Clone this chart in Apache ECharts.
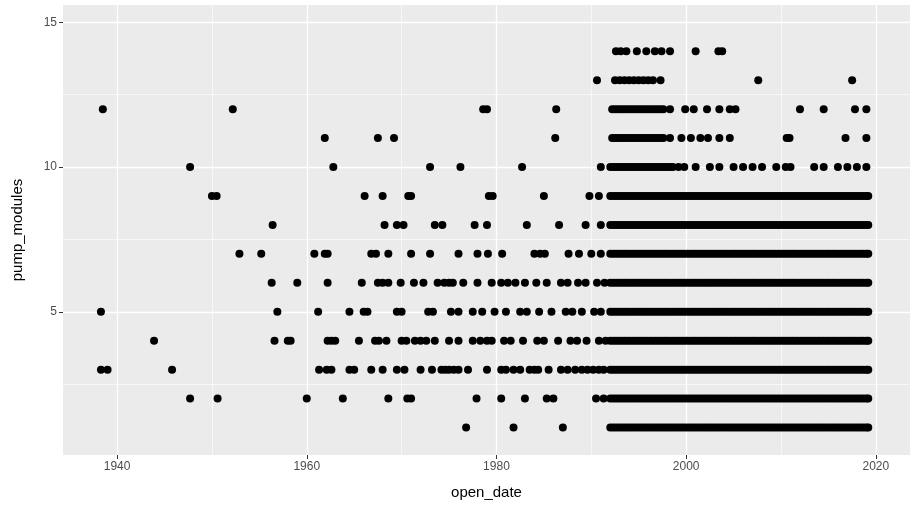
<!DOCTYPE html>
<html>
<head>
<meta charset="utf-8">
<script src="https://cdn.jsdelivr.net/npm/echarts@6/dist/echarts.min.js"></script>
<style>html,body{margin:0;padding:0;background:#fff}#chart{width:918px;height:517px}</style>
</head>
<body>
<div id="chart"></div>
<script>
// years, one list per pump_modules level
var denseYears = [1992.0,1992.3,1992.6,1992.9,1993.2,1993.5,1993.8,1994.1,1994.4,1994.7,1995.0,1995.3,1995.6,1995.9,1996.2,1996.5,1996.8,1997.1,1997.4,1997.7,1998.0,1998.3,1998.6,1998.9,1999.2,1999.5,1999.8,2000.1,2000.4,2000.7,2001.0,2001.3,2001.6,2001.9,2002.2,2002.5,2002.8,2003.1,2003.4,2003.7,2004.0,2004.3,2004.6,2004.9,2005.2,2005.5,2005.8,2006.1,2006.4,2006.7,2007.0,2007.3,2007.6,2007.9,2008.2,2008.5,2008.8,2009.1,2009.4,2009.7,2010.0,2010.3,2010.6,2010.9,2011.2,2011.5,2011.8,2012.1,2012.4,2012.7,2013.0,2013.3,2013.6,2013.9,2014.2,2014.5,2014.8,2015.1,2015.4,2015.7,2016.0,2016.3,2016.6,2016.9,2017.2,2017.5,2017.8,2018.1,2018.4,2018.7,2019.0,2019.2];
var earlyDense = [1992.2,1992.5,1992.8,1993.1,1993.4,1993.7,1994.0,1994.3,1994.6,1994.9,1995.2,1995.5,1995.8,1996.1,1996.4,1996.7,1997.0,1997.3,1997.6,1998.3];

var row1 = [1976.8,1981.8,1987];
var row2 = [1947.7,1950.6,1960,1963.8,1968.6,1970.6,1971,1977.9,1980.5,1983,1985.3,1986,1990.5,1991.3];
var row3 = [1938.3,1939,1945.8,1961.3,1962.1,1962.6,1964.5,1965,1966.8,1968,1969.5,1970.3,1972,1973.2,1974.2,1974.6,1975,1975.5,1976,1977,1979,1980.5,1981,1981.8,1982.5,1983.5,1984,1984.4,1985.5,1986.8,1987.5,1988.3,1989,1989.6,1990.2,1990.8,1991.3];
var row4 = [1943.9,1956.6,1958,1958.3,1962.2,1962.6,1963,1965.5,1967.2,1967.6,1968.4,1970,1970.5,1971.4,1972,1972.6,1973.5,1975,1976,1977.5,1978.3,1979,1979.5,1980.8,1981.5,1982.8,1984.3,1985,1986.5,1987.8,1988.5,1989.5,1990.8,1991.5];
var row5 = [1938.3,1956.9,1961.2,1964.5,1966,1966.4,1969.5,1970,1972.8,1973.3,1975.2,1976,1977.5,1978.5,1979.8,1981,1982.5,1983.2,1984.5,1985.8,1987.3,1988,1989,1990.3,1991];
var row6 = [1956.3,1959,1962.2,1965.8,1967.5,1968,1968.6,1969.9,1971.3,1972.3,1973.8,1974.5,1975,1975.4,1976.5,1978,1979.5,1980.5,1981.2,1982,1983,1984.2,1985.3,1986.8,1987.5,1988.6,1989.4,1990.6,1991.4];
var row7 = [1952.9,1955.2,1960.8,1961.9,1962.2,1966.8,1967.3,1968.6,1971,1973,1976,1978,1979.1,1980.6,1984,1984.6,1985.1,1987.6,1988.7,1990,1991];
var row8 = [1956.4,1968.2,1969.5,1970.2,1973.5,1974.3,1977.7,1979,1983.2,1986.6,1989.4,1991];
var row9 = [1950,1950.5,1966.1,1968,1970.7,1971,1979.2,1979.6,1985,1989.8,1990.8];
var row10 = [1947.7,1962.8,1973,1976.2,1982.7,1991,1992,1992.3,1992.6,1992.9,1993.2,1993.5,1993.8,1994.1,1994.4,1994.7,1995,1995.3,1995.6,1995.9,1996.2,1996.5,1996.8,1997.1,1997.4,1997.7,1998,1998.3,1998.6,1999.2,1999.8,2001,2002.5,2003.5,2005,2006,2007,2008,2009.5,2010.5,2011,2013.5,2014.5,2016,2017,2018,2019];
var row11 = [1961.9,1967.5,1969.2,1986.2,1999.5,2000.5,2001.5,2002.3,2003.5,2004.6,2010.6,2010.9,2016.8,2019];
var row12 = [1938.5,1952.2,1978.6,1979,1986.3,1999.9,2000.8,2002.2,2003.5,2004.6,2005.2,2012,2014.5,2017.8,2019];
var row13 = [1990.6,1992.5,1993,1993.5,1994,1994.5,1995,1995.5,1996,1996.5,1997.3,2007.6,2017.5];
var row14 = [1992.6,1993.1,1993.7,1994.8,1995.8,1996.7,1997.4,1998.3,2001,2003.4,2003.8];

var xMajor = [1940,1960,1980,2000,2020];
var xMinor = [1950,1970,1990,2010];
var yMajor = [5,10,15];
var yMinor = [2.5,7.5,12.5];

var rows = [
  row1.concat(denseYears), row2.concat(denseYears), row3.concat(denseYears),
  row4.concat(denseYears), row5.concat(denseYears), row6.concat(denseYears),
  row7.concat(denseYears), row8.concat(denseYears), row9.concat(denseYears),
  row10, row11.concat(earlyDense), row12.concat(earlyDense), row13, row14
];
var points = [];
rows.forEach(function (yrs, i) {
  yrs.forEach(function (yr) { points.push([yr, i + 1]); });
});

var gridLines = [];
xMinor.forEach(function (v) { gridLines.push({xAxis: v, lineStyle: {width: 0.6}}); });
yMinor.forEach(function (v) { gridLines.push({yAxis: v, lineStyle: {width: 0.6}}); });
xMajor.forEach(function (v) { gridLines.push({xAxis: v, lineStyle: {width: 1.3}}); });
yMajor.forEach(function (v) { gridLines.push({yAxis: v, lineStyle: {width: 1.3}}); });

var chart = echarts.init(document.getElementById('chart'));
chart.setOption({
  animation: false,
  grid: {left: 63, right: 8, top: 5, bottom: 62, show: true, backgroundColor: '#EBEBEB', borderWidth: 0},
  xAxis: {
    type: 'value', min: 1934.3, max: 2023.6,
    name: 'open_date', nameLocation: 'middle', nameGap: 30,
    nameTextStyle: {color: '#000', fontSize: 15, fontFamily: 'Liberation Sans'},
    axisLine: {show: false},
    axisTick: {show: true, customValues: xMajor, length: 4, lineStyle: {color: '#333'}},
    axisLabel: {customValues: xMajor, formatter: function (v) { return String(v); }, color: '#4D4D4D', fontSize: 12, fontFamily: 'Liberation Sans', margin: 6},
    splitLine: {show: false}
  },
  yAxis: {
    type: 'value', min: 0.05, max: 15.6,
    name: 'pump_modules', nameLocation: 'middle', nameGap: 38,
    nameTextStyle: {color: '#000', fontSize: 15, fontFamily: 'Liberation Sans'},
    axisLine: {show: false},
    axisTick: {show: true, customValues: yMajor, length: 4, lineStyle: {color: '#333'}},
    axisLabel: {customValues: yMajor, formatter: function (v) { return String(v); }, color: '#4D4D4D', fontSize: 12, fontFamily: 'Liberation Sans', margin: 6},
    splitLine: {show: false}
  },
  series: [{
    type: 'scatter',
    data: points,
    symbolSize: 8,
    itemStyle: {color: '#000', opacity: 1},
    markLine: {
      silent: true, symbol: 'none', label: {show: false}, animation: false,
      lineStyle: {color: '#fff', type: 'solid'},
      data: gridLines,
      z: 0
    }
  }]
});
</script>
</body>
</html>
